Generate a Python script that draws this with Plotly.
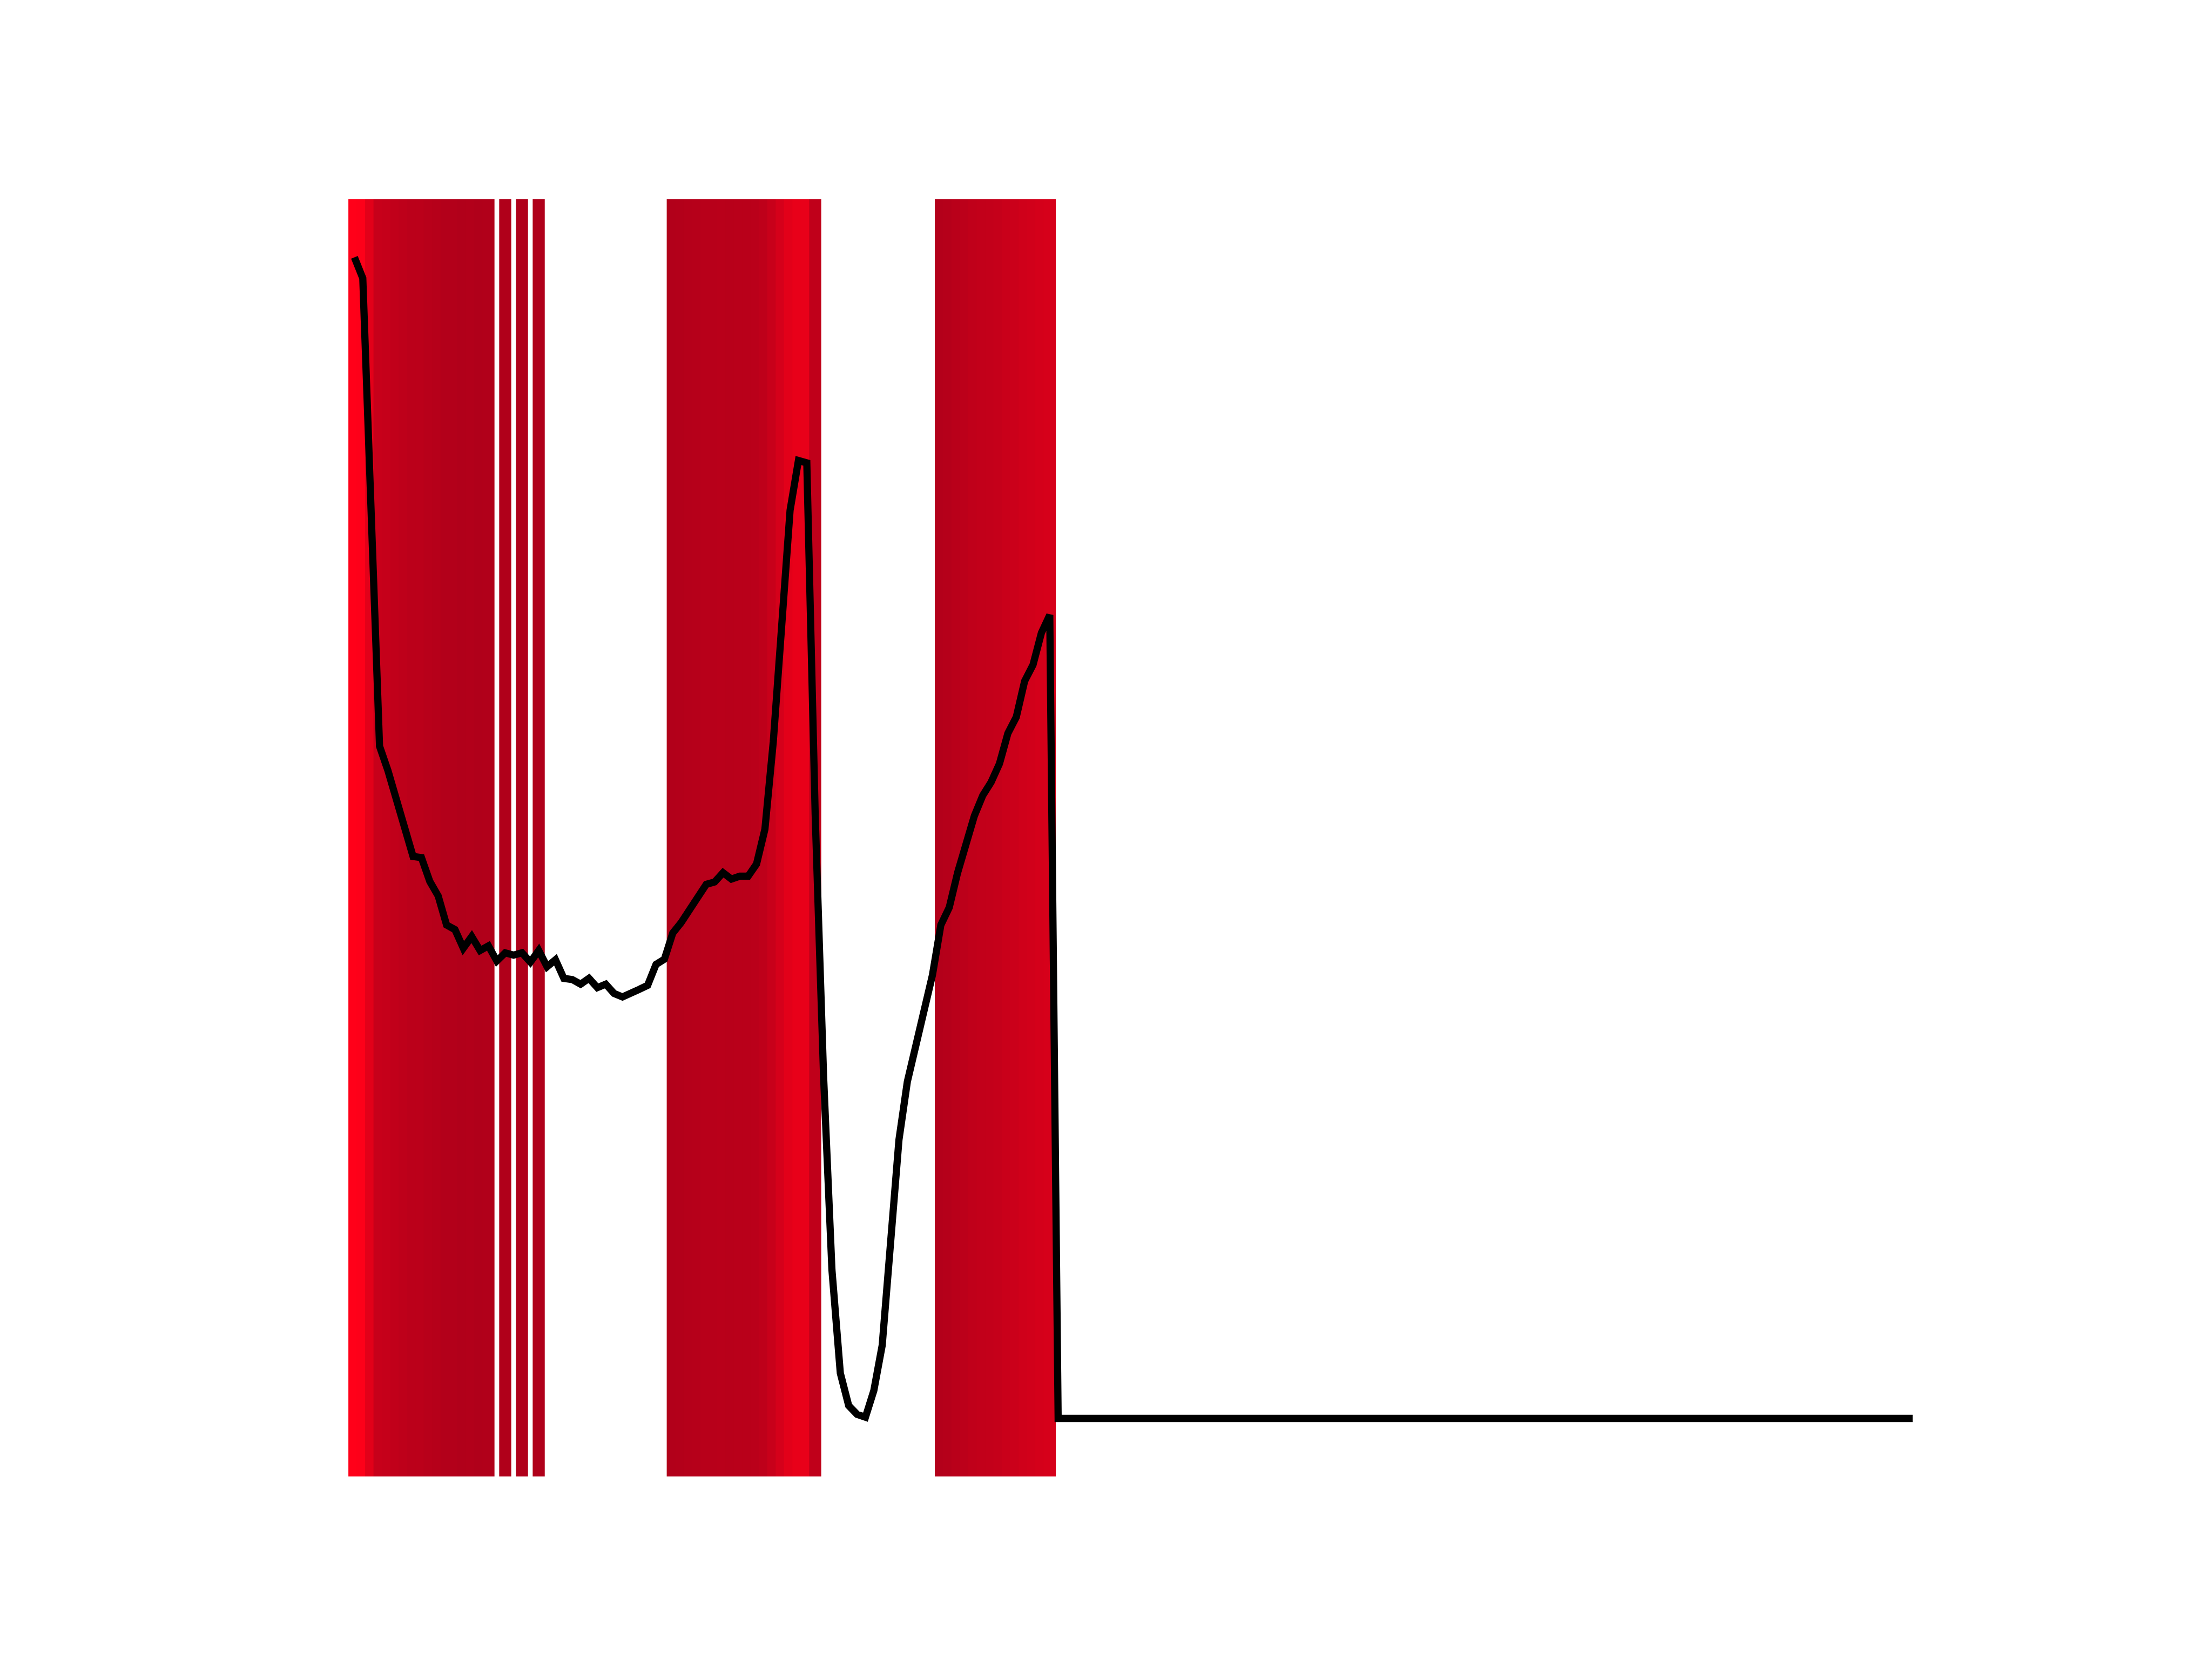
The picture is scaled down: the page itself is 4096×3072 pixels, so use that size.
import plotly.graph_objects as go

# ---- data ----
signal = [
    100.0, 98.2, 78.0, 57.9, 55.8, 53.2, 50.9, 48.4, 48.3, 46.25,
    45.0, 42.5, 42.1, 40.5, 41.5, 40.3, 40.7, 39.4, 40.1, 39.9,
    40.1, 39.3, 40.3, 38.9, 39.5, 37.9, 37.8, 37.4, 37.9, 37.1,
    37.4, 36.6, 36.3, 36.7, 36.95, 37.3, 39.1, 39.55, 41.8, 42.7,
    43.9, 44.9, 46.0, 46.2, 47.0, 46.45, 46.7, 46.7, 47.75, 50.75,
    58.3, 68.2, 78.2, 82.5, 82.3, 52.0, 29.5, 12.8, 3.9, 1.1,
    0.35, 0.1, 2.4, 6.3, 15.7, 24.0, 29.0, 32.0, 35.3, 38.2,
    42.5, 44.0, 47.0, 49.5, 51.9, 53.65, 54.8, 56.4, 59.0, 60.4,
    63.5, 64.9, 67.65, 69.2, 0, 0, 0, 0, 0, 0,
    0, 0, 0, 0, 0, 0, 0, 0, 0, 0,
    0, 0, 0, 0, 0, 0, 0, 0, 0, 0,
    0, 0, 0, 0, 0, 0, 0, 0, 0, 0,
    0, 0, 0, 0, 0, 0, 0, 0, 0, 0,
    0, 0, 0, 0, 0, 0, 0, 0, 0, 0,
    0, 0, 0, 0, 0, 0, 0, 0, 0, 0,
    0, 0, 0, 0, 0, 0, 0, 0, 0, 0,
    0, 0, 0, 0, 0, 0, 0, 0, 0, 0,
    0, 0, 0, 0, 0, 0, 0, 0, 0, 0,
    0, 0, 0, 0, 0, 0, 0,
]
steps = list(range(len(signal)))

# indices of the samples that are highlighted by vertical bands
highlighted = (
    [0, 1, 2, 3, 4, 5, 6, 7, 8, 9, 10, 11, 12, 13, 14, 15, 16]
    + [18, 20, 22]
    + [38, 39, 40, 41, 42, 43, 44, 45, 46, 47, 48, 49, 50, 51, 52, 53, 54, 55]
    + [70, 71, 72, 73, 74, 75, 76, 77, 78, 79, 80, 81, 82, 83]
)

# ---- styling ----
DARK = (176, 0, 26)
BRIGHT = (255, 0, 25)
HALF = 0.72  # half width of a band, in steps

hv = [signal[i] for i in highlighted]
vmin, vmax = min(hv), max(hv)


def band_color(v):
    t = (v - vmin) / (vmax - vmin)
    t = max(0.0, min(1.0, t))
    r = round(DARK[0] + (BRIGHT[0] - DARK[0]) * t)
    g = round(DARK[1] + (BRIGHT[1] - DARK[1]) * t)
    b = round(DARK[2] + (BRIGHT[2] - DARK[2]) * t)
    return f"rgb({r},{g},{b})"


shapes = []
for i in highlighted:
    shapes.append(dict(
        type="rect", xref="x", yref="y domain",
        x0=steps[i] - HALF, x1=steps[i] + HALF, y0=0, y1=1,
        fillcolor=band_color(signal[i]), line=dict(width=0), layer="below",
    ))

fig = go.Figure()
fig.add_trace(go.Scatter(
    x=steps, y=signal, mode="lines",
    line=dict(color="black", width=13.3),
    hoverinfo="skip", showlegend=False,
))

xspan = steps[-1] - steps[0]
yspan = max(signal) - min(signal)
# page body adds an 8 px offset; compensate so the axes box lands where the reference has it
fig.update_layout(
    width=4096, height=3072,
    margin=dict(l=504, r=417.6, t=360.64, b=345.92, pad=0),
    paper_bgcolor="white", plot_bgcolor="white",
    shapes=shapes,
    xaxis=dict(visible=False, range=[steps[0] - 0.05 * xspan, steps[-1] + 0.05 * xspan]),
    yaxis=dict(visible=False, range=[min(signal) - 0.05 * yspan, max(signal) + 0.05 * yspan]),
    showlegend=False,
)

fig.write_html("out.html")
